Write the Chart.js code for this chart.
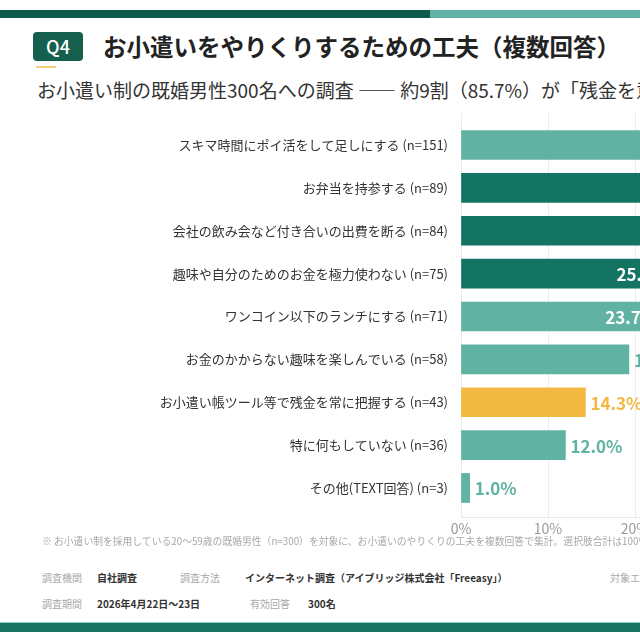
<!DOCTYPE html>
<html lang="ja">
<head>
<meta charset="UTF-8">
<title>お小遣いをやりくりするための工夫</title>
<script src="https://cdn.jsdelivr.net/npm/chart.js"></script>
<style>
  html, body { margin: 0; padding: 0; background: #fff; }
  body {
    width: 640px; height: 640px; overflow: hidden; position: relative;
    font-family: "Noto Sans CJK JP", "Noto Sans", sans-serif; color: #333;
  }
  .abs { position: absolute; white-space: nowrap; }
  .stripe-dark { left: 0; top: 10px; width: 430px; height: 8px; background: #0f5b4a; }
  .stripe-light { left: 430px; top: 10px; width: 400px; height: 8px; background: #5fb4a6; }
  .badge {
    left: 33px; top: 32px; width: 50px; height: 29px; border-radius: 4px;
    background: #155f4e; color: #fff; font-size: 18px; font-weight: 500;
    line-height: 29px; text-align: center;
  }
  .badge-line { left: 36px; top: 66px; width: 20px; height: 2px; background: #f3cf7e; }
  .title { left: 103px; top: 30px; font-size: 23.5px; font-weight: 700; color: #222; line-height: 32px; }
  .subtitle { left: 37px; top: 77px; font-size: 19px; color: #333; line-height: 26px; }
  #chartBox { left: 0; top: 100px; }
  .note { left: 42px; top: 534px; font-size: 9.8px; color: #a8a8a8; line-height: 14px; }
  .f { font-size: 10px; line-height: 14px; }
  .lab { color: #a8a8a8; }
  .val { color: #333; font-weight: 700; }
  .band-light { left: 0; top: 622px; width: 900px; height: 1px; background: #8ccfc1; }
  .band-dark { left: 0; top: 623px; width: 900px; height: 9px; background: #19735f; }
</style>
</head>
<body>
  <div class="abs stripe-dark"></div>
  <div class="abs stripe-light"></div>

  <div class="abs badge">Q4</div>
  <div class="abs badge-line"></div>
  <div class="abs title">お小遣いをやりくりするための工夫（複数回答）</div>
  <div class="abs subtitle">お小遣い制の既婚男性300名への調査 —— 約9割（85.7%）が「残金を意識したやりくり」を実践</div>

  <div class="abs" id="chartBox"><canvas id="chart" width="1013" height="440"></canvas></div>

  <div class="abs note">※ お小遣い制を採用している20〜59歳の既婚男性（n=300）を対象に、お小遣いのやりくりの工夫を複数回答で集計。選択肢合計は100%を超える。</div>

  <div class="abs f lab" style="left:42px; top:571px;">調査機関</div>
  <div class="abs f val" style="left:97px; top:571px;">自社調査</div>
  <div class="abs f lab" style="left:180px; top:571px;">調査方法</div>
  <div class="abs f val" style="left:245px; top:571px;">インターネット調査（アイブリッジ株式会社「Freeasy」）</div>
  <div class="abs f lab" style="left:610px; top:571px;">対象エリア</div>

  <div class="abs f lab" style="left:42px; top:597px;">調査期間</div>
  <div class="abs f val" style="left:97px; top:597px;">2026年4月22日〜23日</div>
  <div class="abs f lab" style="left:250px; top:597px;">有効回答</div>
  <div class="abs f val" style="left:308px; top:597px;">300名</div>

  <div class="abs band-light"></div>
  <div class="abs band-dark"></div>

<script>
// 回答項目（上から順）
const items = [
  "スキマ時間にポイ活をして足しにする",
  "お弁当を持参する",
  "会社の飲み会など付き合いの出費を断る",
  "趣味や自分のためのお金を極力使わない",
  "ワンコイン以下のランチにする",
  "お金のかからない趣味を楽しんでいる",
  "お小遣い帳ツール等で残金を常に把握する",
  "特に何もしていない",
  "その他(TEXT回答)"
];
const counts = [151, 89, 84, 75, 71, 58, 43, 36, 3];
const shares = [50.3, 29.7, 28.0, 25.0, 23.7, 19.3, 14.3, 12.0, 1.0];
const xTicks = [0, 10, 20, 30, 40, 50, 60];

// 色
const LIGHT = "#60b2a3", DARK = "#137464", YELLOW = "#f2b942";
const barColors = [LIGHT, DARK, DARK, DARK, LIGHT, LIGHT, YELLOW, LIGHT, LIGHT];

const labels = items.map((t, i) => `${t} (n=${counts[i]})`);

Chart.defaults.font.family = '"Noto Sans CJK JP", "Noto Sans", sans-serif';

// 値ラベル（長い棒は内側、短い棒は外側）
const valueLabels = {
  id: "valueLabels",
  afterDatasetsDraw(chart) {
    const ctx = chart.ctx;
    const meta = chart.getDatasetMeta(0);
    ctx.save();
    ctx.font = 'bold 17px "Noto Sans CJK JP", sans-serif';
    ctx.textBaseline = "middle";
    meta.data.forEach((bar, i) => {
      const txt = shares[i].toFixed(1) + "%";
      if (shares[i] >= 20) {
        ctx.fillStyle = "#ffffff";
        ctx.textAlign = "right";
        ctx.fillText(txt, bar.x - 10, bar.y + 1);
      } else {
        ctx.fillStyle = barColors[i];
        ctx.textAlign = "left";
        ctx.fillText(txt, bar.x + 5, bar.y + 1);
      }
    });
    ctx.restore();
  }
};

new Chart(document.getElementById("chart"), {
  type: "bar",
  data: {
    datasets: [{
      data: shares.map((v, i) => ({ x: v, y: i })),
      backgroundColor: barColors,
      borderWidth: 0,
      barThickness: 29
    }]
  },
  options: {
    indexAxis: "y",
    responsive: false,
    animation: false,
    layout: { padding: { top: 13, right: 30, left: 0, bottom: 0 } },
    plugins: {
      legend: { display: false },
      tooltip: { enabled: false }
    },
    scales: {
      x: {
        type: "linear",
        min: 0,
        max: 60,
        afterBuildTicks: (axis) => { axis.ticks = xTicks.map(v => ({ value: v })); },
        ticks: {
          callback: (v) => v + "%",
          color: "#9a9a9a",
          font: { size: 14 },
          padding: 3,
          maxRotation: 0
        },
        grid: { color: "#ececec", drawTicks: false },
        border: { display: true, color: "#e8e8e8" },
        afterFit: (s) => { s.height = 23; }
      },
      y: {
        type: "linear",
        reverse: true,
        offset: false,
        min: -0.746,
        max: 8.677,
        afterBuildTicks: (axis) => { axis.ticks = labels.map((l, i) => ({ value: i })); },
        ticks: {
          callback: (v) => labels[v],
          color: "#333",
          font: { size: 13 },
          padding: 5,
          autoSkip: false
        },
        grid: { display: false },
        border: { display: false },
        afterFit: (s) => { s.width = 461; }
      }
    }
  },
  plugins: [valueLabels]
});
</script>
</body>
</html>
